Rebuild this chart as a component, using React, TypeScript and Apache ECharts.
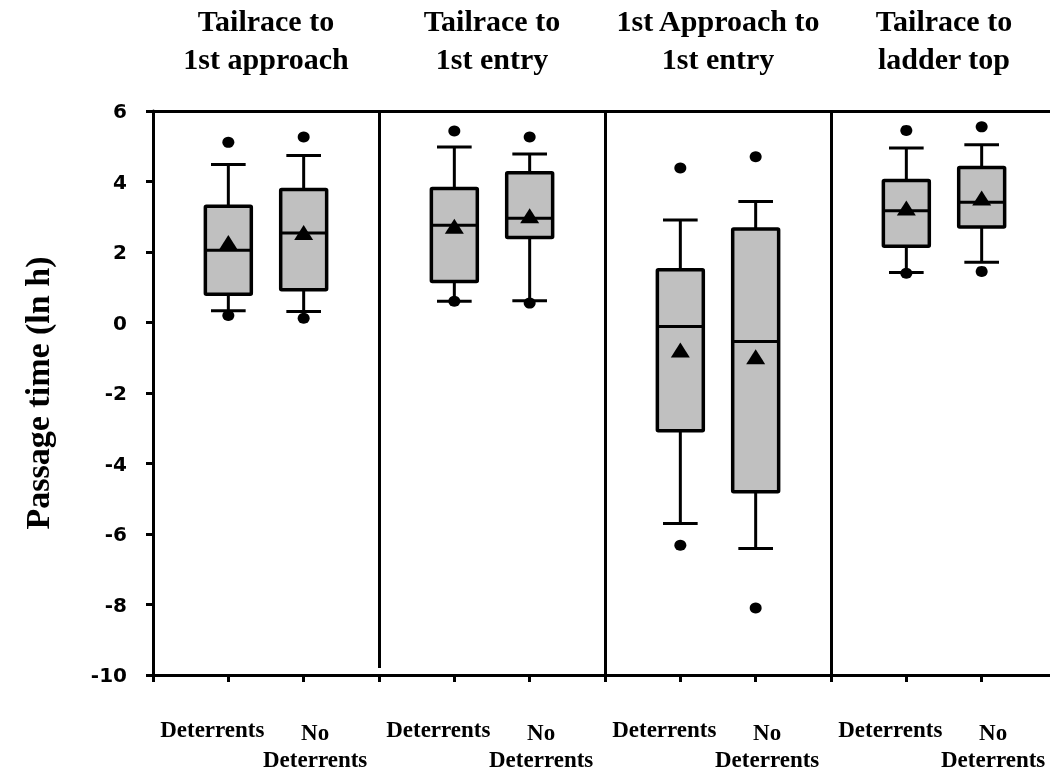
import React, { useEffect, useRef } from 'react';
import * as echarts from 'echarts';

// Group titles (centred over each pair of boxes)
const groupTitles = ['Tailrace to\n1st approach', 'Tailrace to\n1st entry', '1st Approach to\n1st entry', 'Tailrace to\nladder top'];
const groupTitlePositions = [1.5, 4.5, 7.5, 10.5];

// Box positions on the x value axis and their labels
const detPositions = [1, 4, 7, 10];
const noDetPositions = [2, 5, 8, 11];
const detLabel = 'Deterrents';
const noDetLabel = 'No\nDeterrents';
const boxPositions = [1, 2, 4, 5, 7, 8, 10, 11];

// Box statistics (ln h)
const whiskerLow = [0.33, 0.31, 0.6, 0.62, -5.7, -6.41, 1.42, 1.71];
const q1 = [0.8, 0.93, 1.16, 2.41, -3.07, -4.8, 2.16, 2.71];
const median = [2.05, 2.54, 2.76, 2.96, -0.11, -0.54, 3.17, 3.41];
const q3 = [3.3, 3.77, 3.8, 4.25, 1.5, 2.65, 4.03, 4.4];
const whiskerHigh = [4.48, 4.74, 4.98, 4.78, 2.91, 3.43, 4.95, 5.04];
const means = [2.27, 2.55, 2.73, 3.03, -0.78, -0.97, 3.25, 3.53];
const outlierHigh = [5.11, 5.26, 5.43, 5.26, 4.38, 4.7, 5.45, 5.55];
const outlierLow = [0.2, 0.12, 0.6, 0.55, -6.32, -8.1, 1.4, 1.45];

// Panel separators
const separators = [3, 6, 9];
const separatorBottoms = [-9.8, -10, -10];

const Y_MIN = -10;
const Y_MAX = 6;
const Y_INTERVAL = 2;

export default function App() {
  const ref = useRef<HTMLDivElement>(null);

  useEffect(() => {
    if (!ref.current) return;
    const chart = echarts.init(ref.current, undefined, { renderer: 'svg' });

    const boxData = boxPositions.map((x, i) => [x, whiskerLow[i], q1[i], median[i], q3[i], whiskerHigh[i]]);
    const outlierData: number[][] = [];
    boxPositions.forEach((x, i) => {
      outlierData.push([x, outlierHigh[i]]);
      outlierData.push([x, outlierLow[i]]);
    });
    const meanData = boxPositions.map((x, i) => [x, means[i]]);

    const serifBold = { color: '#000', fontFamily: '"Liberation Serif", "Times New Roman", serif', fontWeight: 'bold' as const };

    const option: any = {
      animation: false,
      grid: { left: 153, right: -7, top: 111, bottom: 103, outerBoundsMode: 'none', containLabel: false },
      xAxis: [
        {
          type: 'value', position: 'bottom', min: 0, max: 12, interval: 1,
          axisLine: { show: true, onZero: false, lineStyle: { color: '#000', width: 3 } },
          axisTick: { show: true, inside: false, length: 7, lineStyle: { color: '#000', width: 3 } },
          splitLine: { show: false },
          axisLabel: {
            showMinLabel: true, showMaxLabel: true, hideOverlap: false,
            margin: 42,
            formatter: (v: number) => (detPositions.includes(v) ? `{d|${detLabel}}` : ''),
            rich: { d: { ...serifBold, fontSize: 23, lineHeight: 24, padding: [0, 32, 0, 0] } },
          },
        },
        {
          type: 'value', position: 'bottom', min: 0, max: 12, interval: 1,
          axisLine: { show: false }, axisTick: { show: false }, splitLine: { show: false },
          axisLabel: {
            showMinLabel: true, showMaxLabel: true, hideOverlap: false,
            margin: 44,
            formatter: (v: number) =>
              noDetPositions.includes(v) ? noDetLabel.split('\n').map((s) => `{n|${s}}`).join('\n') : '',
            rich: { n: { ...serifBold, fontSize: 23, lineHeight: 27, padding: [0, 0, 0, 23] } },
          },
        },
        {
          type: 'value', position: 'top', min: 0, max: 12, interval: 1.5,
          axisLine: { show: true, onZero: false, lineStyle: { color: '#000', width: 3 } },
          axisTick: { show: false }, splitLine: { show: false },
          axisLabel: {
            showMinLabel: true, showMaxLabel: true, hideOverlap: false,
            margin: 34,
            ...serifBold, fontSize: 30, lineHeight: 38,
            formatter: (v: number) => {
              const i = groupTitlePositions.indexOf(v);
              return i >= 0 ? groupTitles[i] : '';
            },
          },
        },
      ],
      yAxis: {
        type: 'value', min: Y_MIN, max: Y_MAX, interval: Y_INTERVAL,
        axisLine: { show: true, onZero: false, lineStyle: { color: '#000', width: 3 } },
        axisTick: { show: true, inside: false, length: 7, lineStyle: { color: '#000', width: 3 } },
        splitLine: { show: false },
        axisLabel: { color: '#000', fontFamily: '"DejaVu Sans", Verdana, sans-serif', fontWeight: 'bold', fontSize: 20, margin: 26 },
        name: 'Passage time (ln h)',
        nameLocation: 'middle',
        nameRotate: 90,
        nameGap: 99,
        nameTextStyle: { ...serifBold, fontSize: 34 },
      },
      series: [
        {
          type: 'custom',
          xAxisIndex: 0,
          encode: { x: 0, y: [1, 2, 3, 4, 5] },
          data: boxData,
          z: 2,
          renderItem: (params: any, api: any) => {
            const x = api.value(0);
            const lo = api.coord([x, api.value(1)]);
            const b1 = api.coord([x, api.value(2)]);
            const md = api.coord([x, api.value(3)]);
            const b3 = api.coord([x, api.value(4)]);
            const hi = api.coord([x, api.value(5)]);
            const bw = api.size([0.61, 0])[0];
            const cw = api.size([0.46, 0])[0];
            const cx = lo[0];
            const ls = { stroke: '#000', lineWidth: 3 };
            return {
              type: 'group',
              children: [
                { type: 'line', shape: { x1: cx, y1: hi[1], x2: cx, y2: b3[1] }, style: ls },
                { type: 'line', shape: { x1: cx, y1: b1[1], x2: cx, y2: lo[1] }, style: ls },
                { type: 'line', shape: { x1: cx - cw / 2, y1: hi[1], x2: cx + cw / 2, y2: hi[1] }, style: ls },
                { type: 'line', shape: { x1: cx - cw / 2, y1: lo[1], x2: cx + cw / 2, y2: lo[1] }, style: ls },
                {
                  type: 'rect',
                  shape: { x: cx - bw / 2, y: b3[1], width: bw, height: b1[1] - b3[1], r: 1 },
                  style: { fill: '#c0c0c0', stroke: '#000', lineWidth: 3.5 },
                },
                { type: 'line', shape: { x1: cx - bw / 2, y1: md[1], x2: cx + bw / 2, y2: md[1] }, style: ls },
              ],
            };
          },
        },
        {
          type: 'scatter',
          xAxisIndex: 0,
          data: outlierData,
          symbol: 'circle',
          symbolSize: [12, 11],
          itemStyle: { color: '#000', opacity: 1 },
          z: 3,
          silent: true,
          markLine: {
            silent: true,
            symbol: 'none',
            label: { show: false },
            lineStyle: { color: '#000', width: 3, type: 'solid', opacity: 1 },
            data: separators.map((s, i) => [{ coord: [s, Y_MAX] }, { coord: [s, separatorBottoms[i]] }]),
          },
        },
        {
          type: 'scatter',
          xAxisIndex: 0,
          data: meanData,
          symbol: 'triangle',
          symbolSize: [19, 15],
          itemStyle: { color: '#000', opacity: 1 },
          z: 4,
          silent: true,
        },
      ],
    };

    chart.setOption(option);
    return () => chart.dispose();
  }, []);

  return <div ref={ref} style={{ position: 'fixed', left: 0, top: 0, width: 1050, height: 778 }} />;
}
